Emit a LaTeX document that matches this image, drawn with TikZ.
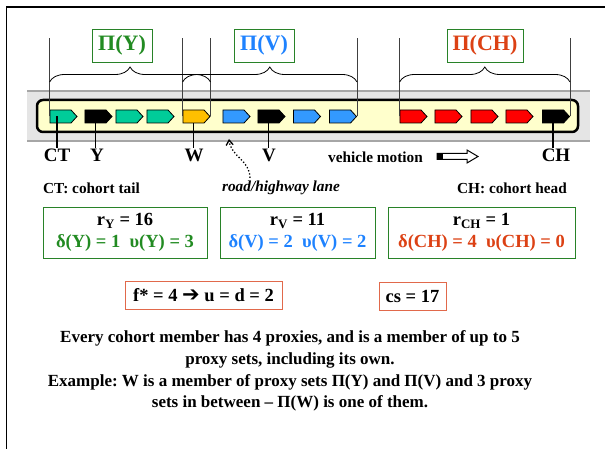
\documentclass[tikz,border=0pt]{standalone}
\usepackage{fontspec}
\setmainfont{Liberation Serif}
\newfontfamily\dingfont{DejaVu Sans}
\usetikzlibrary{shapes.symbols,decorations.pathreplacing,arrows.meta,calc}
\definecolor{grtxt}{RGB}{34,139,34}
\definecolor{grbox}{RGB}{40,130,40}
\definecolor{bltxt}{RGB}{30,130,255}
\definecolor{rdtxt}{RGB}{220,65,20}
\definecolor{carteal}{RGB}{0,204,153}
\definecolor{carblue}{RGB}{51,153,255}
\definecolor{carorange}{RGB}{255,192,0}
\definecolor{carred}{RGB}{255,0,0}
\definecolor{laneyel}{RGB}{255,255,204}
\definecolor{fbox}{RGB}{225,105,75}
\frenchspacing
\begin{document}
\begin{tikzpicture}[x=1pt,y=-1pt,
  every node/.style={font=\bfseries},
  car/.style={draw=black,line width=.8pt,fill=#1,shape=signal,signal to=east,
    signal pointer angle=95,minimum width=27pt,minimum height=13pt,inner sep=0pt},
  vline/.style={draw=black!75,line width=.7pt},
  pibox/.style={draw=grbox,line width=.8pt,minimum width=#1,minimum height=33pt,
    inner sep=0pt,font=\bfseries\fontsize{22}{24}\selectfont},
  infobox/.style={draw=grbox,line width=.9pt,minimum width=#1,minimum height=51pt,
    inner sep=0pt,align=center,font=\bfseries\fontsize{18.5}{22}\selectfont},
  fstar/.style={draw=fbox,line width=.9pt,minimum width=#1,minimum height=28pt,
    inner sep=0pt,font=\bfseries\fontsize{18.5}{20}\selectfont},
  carlbl/.style={font=\bfseries\fontsize{19}{21}\selectfont,inner sep=1pt},
  smalltxt/.style={font=\bfseries\fontsize{15.3}{17}\selectfont,inner sep=0pt}]
\useasboundingbox (0,0) rectangle (605,449);
% slide frame
\draw[line width=1.6pt] (6.5,449) -- (6.5,7) -- (605,7);
% the lane
\fill[black!10] (27,91) rectangle (590,141);
\draw[black!35,line width=1.5pt] (27,91) -- (590,91) (27,141) -- (590,141);
\draw[line width=2.5pt,fill=laneyel,rounded corners=6pt] (37,100) rectangle (578,132);
% cohort members
\foreach \x/\c/\n in {60.5/carteal/ct,95.5/black/y,126.5/carteal/t2,157.5/carteal/t3,
    193.5/carorange/w,233.5/carblue/b1,268.5/black/v,304/carblue/b2,340/carblue/b3,
    410.5/carred/r1,445.5/carred/r2,481.5/carred/r3,516.5/carred/r4,553/black/ch}
  \node[car=\c] (\n) at (\x,116.5) {};
% proxy sets
\draw[vline] (ct.west) -- (ct.west |- 0,38);
\draw[vline] (w.west) -- (w.west |- 0,38);
\draw[vline] (w.east) -- (w.east |- 0,38);
\draw[vline] (b3.east) -- (b3.east |- 0,38);
\draw[vline] (r1.west) -- (r1.west |- 0,38);
\draw[vline] (ch.east) -- (ch.east |- 0,38);
\draw[line width=.8pt,decorate,decoration={brace,amplitude=15pt}]
  (ct.west |- 0,82) -- (w.east |- 0,82);
\draw[line width=.8pt,decorate,decoration={brace,amplitude=15pt}]
  (w.west |- 0,82) -- (b3.east |- 0,82);
\draw[line width=.8pt,decorate,decoration={brace,amplitude=15pt}]
  (r1.west |- 0,82) -- (ch.east |- 0,82);
\node[pibox=60pt,text=grtxt] (piy) at (122,45.5) {Π(Y)};
\node[pibox=60pt,text=bltxt] (piv) at (264,45.5) {Π(V)};
\node[pibox=76pt,text=rdtxt] (pich) at (485,45.5) {Π(CH)};
% labels under the lane
\node[carlbl] (ctlbl) at (57,155.5) {CT};
\node[carlbl] (ylbl) at (97,155.5) {Y};
\node[carlbl] (wlbl) at (194,155.5) {W};
\node[carlbl] (vlbl) at (269,155.5) {V};
\node[carlbl] (chlbl) at (556,155.5) {CH};
\draw[line width=1.2pt] (ctlbl.north |- ct) -- (ctlbl.north);
\draw[line width=1.2pt] (y) -- (y |- ylbl.north);
\draw[line width=1.2pt] (w) -- (w |- wlbl.north);
\draw[line width=1.2pt] (v) -- (v |- vlbl.north);
\draw[line width=1.2pt] (ch) -- (ch |- chlbl.north);
\node[smalltxt] (motion) at (375.5,157) {vehicle motion};
\draw[line width=1pt,fill=white] (437,153.5) -- (467,153.5) -- (467,150) -- (478,156.5)
  -- (467,163) -- (467,159.5) -- (437,159.5) -- cycle;
\fill (437,153.5) rectangle (443,159.5);
\node[smalltxt,anchor=west] (tail) at (43,188) {CT: cohort tail};
\node[smalltxt,anchor=east] (head) at (567,188) {CH: cohort head};
\node[smalltxt,font=\bfseries\itshape\fontsize{15.3}{17}\selectfont] (road) at (281,188) {road/highway lane};
\coordinate (lanept) at (229,139);
\draw[dotted,line width=1.3pt,-{Straight Barb[length=5pt,width=7pt]}]
  ($(road.north west)+(28,-3)$) .. controls +(0,-18) and +(2,18) .. (lanept);
% per-member counts
\node[infobox=164pt] (ybox) at (125,232.5)
  {r\textsubscript{Y} = 16\\\textcolor{grtxt}{δ(Y) = 1\ \ υ(Y) = 3}};
\node[infobox=155pt] (vbox) at (297.5,232.5)
  {r\textsubscript{V} = 11\\\textcolor{bltxt}{δ(V) = 2\ \ υ(V) = 2}};
\node[infobox=187pt] (chbox) at (481.5,232.5)
  {r\textsubscript{CH} = 1\\\textcolor{rdtxt}{δ(CH) = 4\ \ υ(CH) = 0}};
\node[fstar=157pt] (fbox) at (203.5,295) {f* = 4 {\dingfont\mdseries\fontsize{21}{20}\selectfont ➔} u = d = 2};
\node[fstar=67pt] (csbox) at (412.5,296.5) {cs = 17};
% explanation
\node[align=center,font=\bfseries\fontsize{17}{21.7}\selectfont] (note) at (290,371)
  {Every cohort member has 4 proxies, and is a member of up to 5\\
   proxy sets, including its own.\\
   Example: W is a member of proxy sets Π(Y) and Π(V) and 3 proxy\\
   sets in between – Π(W) is one of them.};
\end{tikzpicture}
\end{document}
